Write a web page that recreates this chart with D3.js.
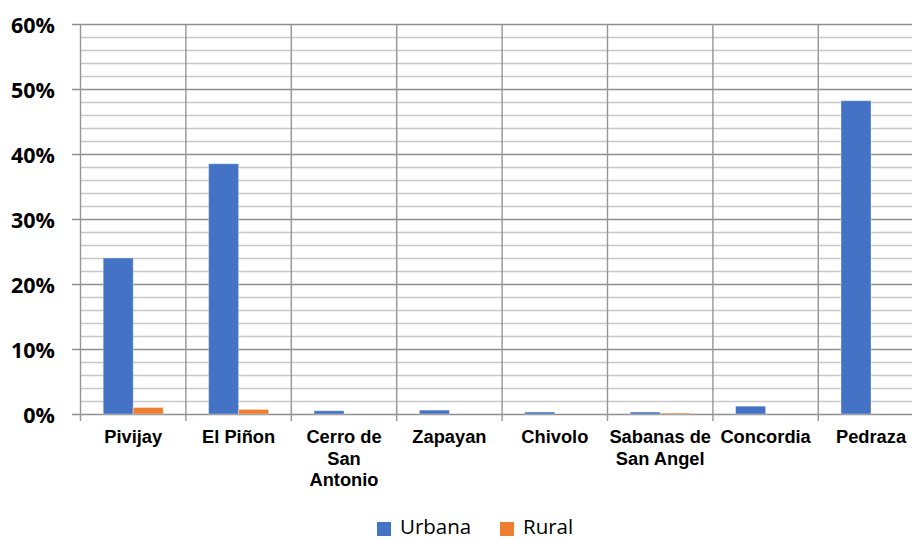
<!DOCTYPE html>
<html>
<head>
<meta charset="utf-8">
<script src="https://cdn.jsdelivr.net/npm/d3@7"></script>
<style>
  html, body { margin: 0; padding: 0; background: #ffffff; }
  svg { display: block; }
</style>
</head>
<body>
<svg id="chart" width="912" height="540"></svg>
<script>
// Municipalities and their share of coverage, by zone
const categories = ["Pivijay", "El Piñon", "Cerro de San Antonio", "Zapayan", "Chivolo", "Sabanas de San Angel", "Concordia", "Pedraza"];
const categoryLines = [["Pivijay"], ["El Piñon"], ["Cerro de", "San", "Antonio"], ["Zapayan"], ["Chivolo"], ["Sabanas de", "San Angel"], ["Concordia"], ["Pedraza"]];
const seriesNames = ["Urbana", "Rural"];
const urbana = [0.240, 0.385, 0.005, 0.006, 0.003, 0.003, 0.012, 0.482];
const rural  = [0.010, 0.007, 0.000, 0.000, 0.000, 0.0015, 0.000, 0.000];
const yTicks = [0, 0.1, 0.2, 0.3, 0.4, 0.5, 0.6];
const colors = ["#4472C4", "#ED7D31"];

const svg = d3.select("#chart");
const margin = { left: 80.5, top: 24, bottom: 414 };
const plotRight = 80.5 + 8 * 105.4;

const x0 = d3.scaleBand().domain(categories).range([margin.left, plotRight]).paddingInner(0).paddingOuter(0);
const x1 = d3.scaleBand().domain(seriesNames).range([0, x0.bandwidth()]).paddingInner(0).paddingOuter(0.757);
const y = d3.scaleLinear().domain([0, 0.6]).range([margin.bottom, margin.top]);

// minor horizontal gridlines every 2%
const minor = d3.range(0, 61, 2).filter(v => v % 10 !== 0).map(v => v / 100);
svg.append("g").selectAll("line").data(minor).join("line")
  .attr("x1", margin.left).attr("x2", 912)
  .attr("y1", d => Math.round(y(d)) + 0.5).attr("y2", d => Math.round(y(d)) + 0.5)
  .attr("stroke", "#c8c8c8").attr("stroke-width", 1.3);

// major gridlines with tick stubs
svg.append("g").selectAll("line").data(yTicks).join("line")
  .attr("x1", 72).attr("x2", 912)
  .attr("y1", d => Math.round(y(d)) + 0.5).attr("y2", d => Math.round(y(d)) + 0.5)
  .attr("stroke", "#8e8e8e").attr("stroke-width", 1.4);

// vertical category separators
const seps = categories.map(c => x0(c)).concat([plotRight]);
svg.append("g").selectAll("line").data(seps).join("line")
  .attr("x1", d => d).attr("x2", d => d)
  .attr("y1", margin.top).attr("y2", margin.bottom + 7)
  .attr("stroke", "#959595").attr("stroke-width", 1.4);

// bars
const rows = categories.map((c, i) => ({ c, vals: [urbana[i], rural[i]] }));
const groups = svg.append("g").selectAll("g").data(rows).join("g")
  .attr("transform", d => `translate(${x0(d.c)},0)`);
groups.selectAll("rect").data(d => d.vals.map((v, j) => ({ s: seriesNames[j], v, j })).filter(e => e.v > 0))
  .join("rect")
  .attr("x", e => x1(e.s))
  .attr("width", x1.bandwidth())
  .attr("y", e => y(e.v))
  .attr("height", e => y(0) - y(e.v))
  .attr("fill", e => colors[e.j])
  .attr("stroke", "rgba(255,255,255,0.35)")
  .attr("stroke-width", 1);

// y axis labels
svg.append("g").selectAll("text").data(yTicks).join("text")
  .attr("x", 55).attr("y", d => y(d))
  .attr("text-anchor", "end").attr("dominant-baseline", "central")
  .attr("font-family", "'Open Sans', sans-serif").attr("font-weight", "bold")
  .attr("font-size", 21.5).attr("fill", "#000")
  .text(d => d3.format(".0%")(d));

// category labels
const lab = svg.append("g").selectAll("text").data(categories).join("text")
  .attr("x", c => x0(c) + x0.bandwidth() / 2)
  .attr("y", 443)
  .attr("text-anchor", "middle")
  .attr("font-family", "'Liberation Sans', Arial, sans-serif").attr("font-weight", "bold")
  .attr("font-size", 18.3).attr("fill", "#000");
lab.selectAll("tspan").data((c, i) => categoryLines[i]).join("tspan")
  .attr("x", function () { return d3.select(this.parentNode).attr("x"); })
  .attr("dy", (d, k) => k === 0 ? 0 : 21.5)
  .text(d => d);

// legend
const legend = svg.append("g");
const legendItems = [{ name: seriesNames[0], x: 377 }, { name: seriesNames[1], x: 500 }];
legendItems.forEach((it, j) => {
  legend.append("rect").attr("x", it.x).attr("y", 522).attr("width", 14).attr("height", 14).attr("fill", colors[j]);
  legend.append("text").attr("x", it.x + 23).attr("y", 534)
    .attr("font-family", "'Open Sans', sans-serif").attr("font-size", 20.5).attr("fill", "#000")
    .text(it.name);
});
</script>
</body>
</html>
